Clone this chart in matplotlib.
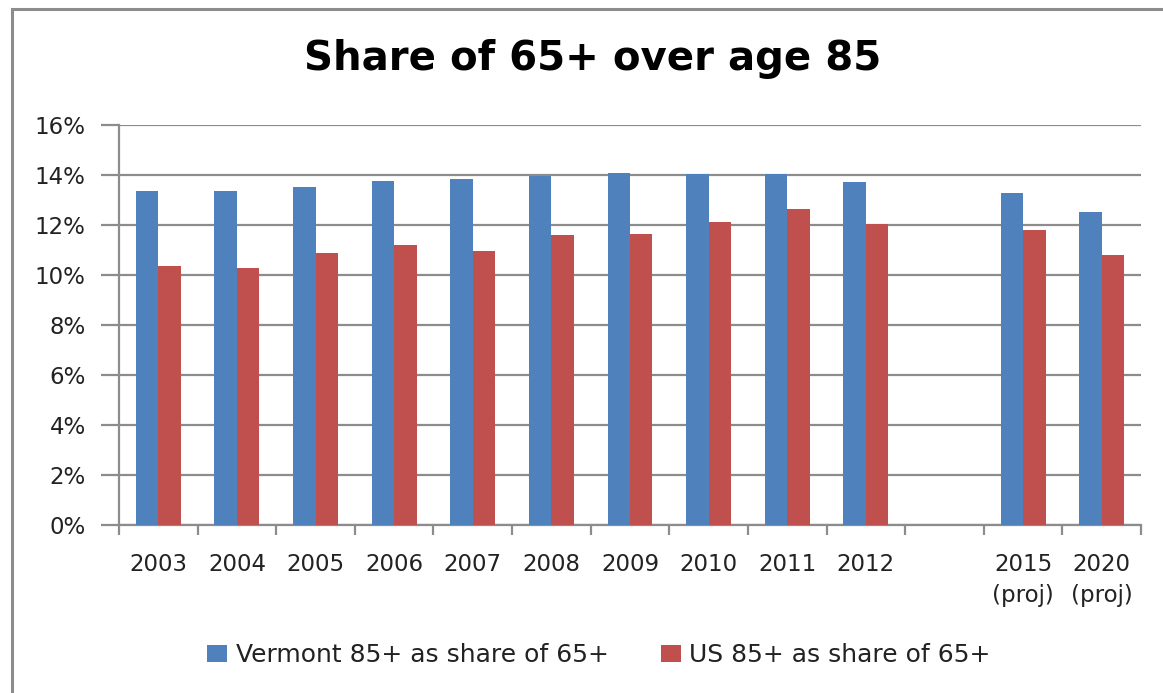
import matplotlib.pyplot as plt
from matplotlib.patches import Rectangle
from matplotlib.ticker import FuncFormatter
import numpy as np

years = ["2003", "2004", "2005", "2006", "2007", "2008", "2009", "2010",
         "2011", "2012", "", "2015\n(proj)", "2020\n(proj)"]
vermont = [13.36, 13.36, 13.53, 13.77, 13.85, 13.96, 14.1, 14.03, 14.03,
           13.71, np.nan, 13.29, 12.53]
us = [10.37, 10.29, 10.87, 11.2, 10.95, 11.61, 11.63, 12.12, 12.63,
      12.03, np.nan, 11.79, 10.79]

W, H = 1163, 693
fig = plt.figure(figsize=(W/100, H/100), dpi=100)
ax = fig.add_axes([119/W, 1-525/H, (1141-119)/W, 400/H])

x = np.arange(len(years))
bw = 0.286
blue = "#4F81BD"
red = "#C0504D"
ax.bar(x - bw/2, vermont, bw, color=blue, label="Vermont 85+ as share of 65+", zorder=3)
ax.bar(x + bw/2, us, bw, color=red, label="US 85+ as share of 65+", zorder=3)

ax.set_xlim(-0.5, len(years) - 0.5)
ax.set_ylim(0, 16)
ax.set_yticks(np.arange(0, 17, 2))
ax.yaxis.set_major_formatter(FuncFormatter(lambda v, p: "%d%%" % v))
ax.yaxis.grid(True, color="#8c8c8c", lw=1.6, zorder=0)

# category boundaries carry the ticks, labels sit in the middle
ax.set_xticks(np.arange(-0.5, len(years), 1.0))
ax.set_xticklabels([])
ax.set_xticks(x, minor=True)
ax.set_xticklabels(years, minor=True, fontsize=16.5, color="#222222",
                   linespacing=1.45, va="top")
ax.tick_params(axis="x", which="minor", length=0, pad=20)
ax.tick_params(axis="x", which="major", length=7, width=1.6, color="#8c8c8c")
ax.tick_params(axis="y", length=13, width=1.6, color="#8c8c8c", pad=11,
               labelsize=16.5, labelcolor="#222222")

for s in ["top", "right"]:
    ax.spines[s].set_visible(False)
for s in ["left", "bottom"]:
    ax.spines[s].set_color("#8c8c8c")
    ax.spines[s].set_linewidth(1.6)

fig.text(593/W, 1-70/H, "Share of 65+ over age 85", ha="center", va="baseline",
         fontsize=29, fontweight="bold", color="black")

leg = fig.legend(loc="center", bbox_to_anchor=(599/W, 1-655/H), ncol=2,
                 frameon=False, fontsize=18, handlelength=0.8, handleheight=0.7,
                 handletextpad=0.33, columnspacing=2.1)
for t in leg.get_texts():
    t.set_color("#222222")

# outer chart border, runs off the right and bottom edges
fig.patches.append(Rectangle((12/W, -0.05), 1.1, 1.05 - 9/H, transform=fig.transFigure,
                             fill=False, edgecolor="#8c8c8c", lw=2.2))

fig.savefig("out.png", dpi=100)
